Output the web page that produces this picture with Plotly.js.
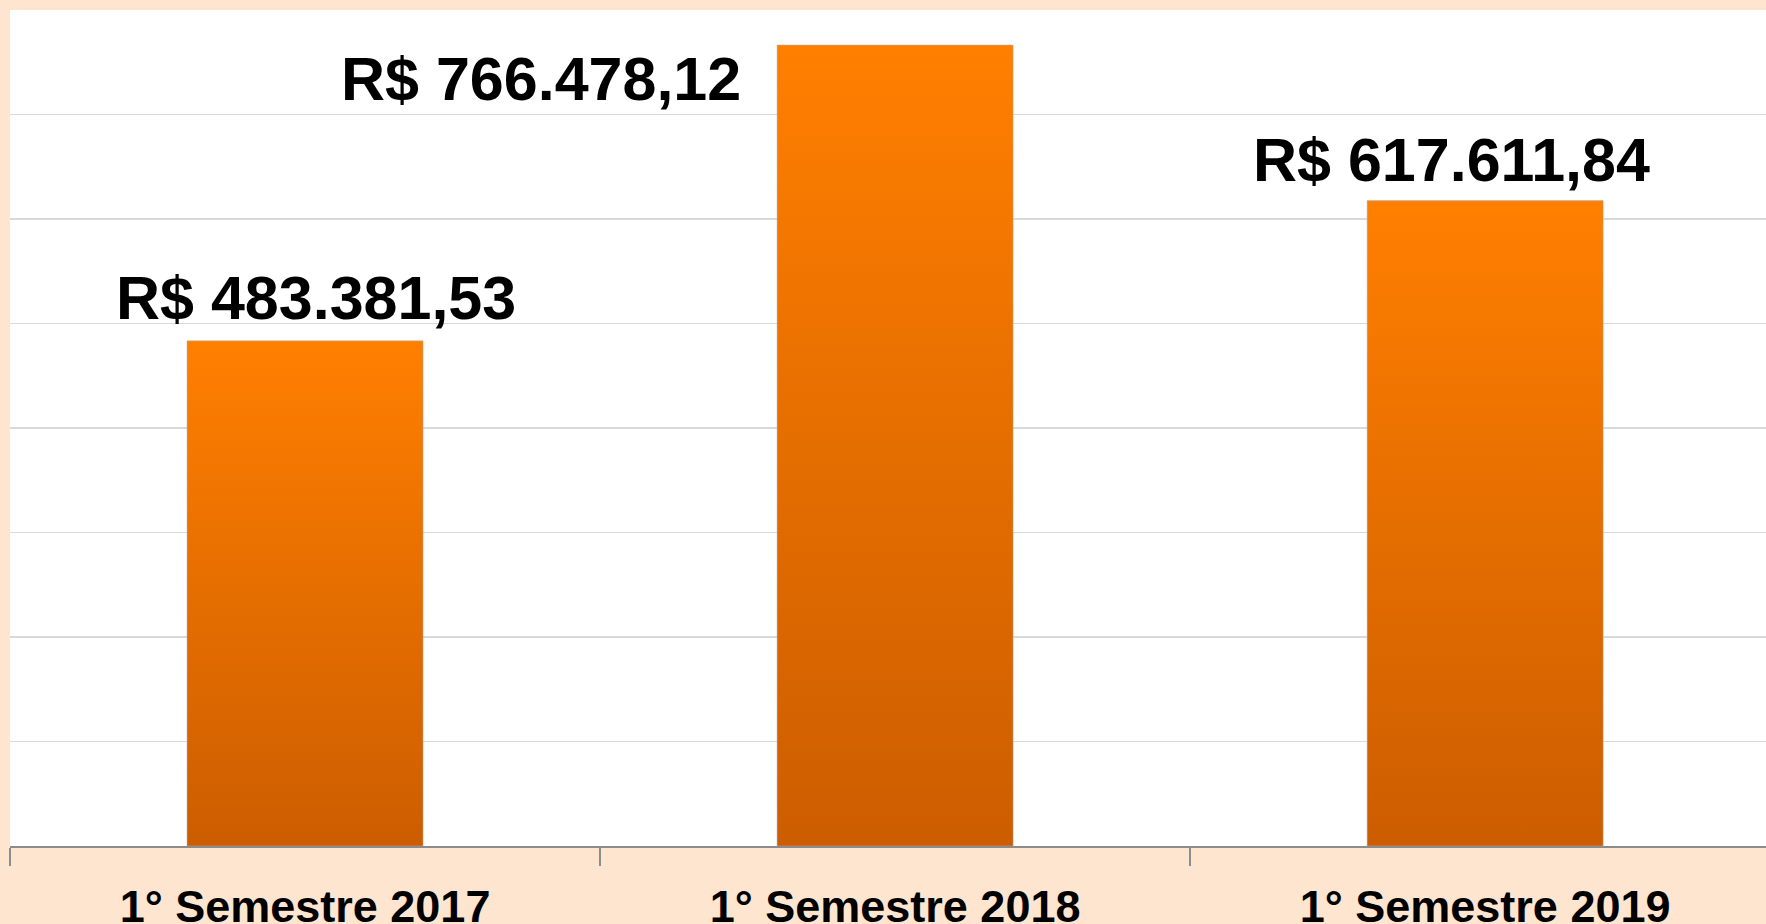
<!DOCTYPE html>
<html>
<head>
<meta charset="utf-8">
<script src="https://cdn.plot.ly/plotly-3.0.1.min.js"></script>
<style>
  html, body { margin: 0; padding: 0; background: #FDE5CF; }
  #chart { width: 1766px; height: 924px; }
</style>
</head>
<body>
<div id="chart"></div>
<script>
const categories = ['1° Semestre 2017', '1° Semestre 2018', '1° Semestre 2019'];
const values = [483381.53, 766478.12, 617611.84];
const yTicks = [0, 100000, 200000, 300000, 400000, 500000, 600000, 700000, 800000];

function formatBRL(v) {
  const parts = v.toFixed(2).split('.');
  const intPart = parts[0].replace(/\B(?=(\d{3})+(?!\d))/g, '.');
  return 'R$ ' + intPart + ',' + parts[1];
}

// label placement offsets (styling)
const labelXShift = [11, -354, -34];
const labelYShift = [7, -70, 5];

const FONT = 'Arial, "Liberation Sans", sans-serif';

const trace = {
  type: 'bar',
  x: categories,
  y: values,
  width: 0.4,
  marker: { color: '#E86E00', line: { color: 'rgba(180,180,180,0.5)', width: 1 } },
  hoverinfo: 'none'
};

const annotations = categories.map((c, i) => ({
  x: c,
  y: values[i],
  xref: 'x',
  yref: 'y',
  text: formatBRL(values[i]),
  showarrow: false,
  xanchor: 'center',
  yanchor: 'bottom',
  xshift: labelXShift[i],
  yshift: labelYShift[i],
  font: { family: FONT, size: 61, color: '#000000', weight: 'bold' }
}));

const layout = {
  width: 1766,
  height: 924,
  margin: { l: 10, r: 0, t: 10, b: 78 },
  paper_bgcolor: '#FDE5CF',
  plot_bgcolor: '#FFFFFF',
  showlegend: false,
  xaxis: {
    type: 'category',
    range: [-0.5, 2.476],
    tickson: 'boundaries',
    ticks: 'outside',
    ticklen: 18,
    tickwidth: 1.5,
    tickcolor: '#8C8C8C',
    showline: true,
    linecolor: '#8C8C8C',
    linewidth: 2,
    showgrid: false,
    ticklabelstandoff: 20,
    tickfont: { family: FONT, size: 45, color: '#000000', weight: 'bold' },
    fixedrange: true
  },
  yaxis: {
    range: [0, 800000],
    tickvals: yTicks,
    showticklabels: false,
    showgrid: true,
    gridcolor: '#D9D9D9',
    gridwidth: 1.5,
    zeroline: false,
    showline: false,
    ticks: '',
    fixedrange: true
  },
  annotations: annotations
};

Plotly.newPlot('chart', [trace], layout, { displayModeBar: false, staticPlot: true }).then(gd => {
  const svg = gd.querySelector('svg.main-svg');
  const ns = 'http://www.w3.org/2000/svg';
  let defs = svg.querySelector('defs');
  if (!defs) { defs = document.createElementNS(ns, 'defs'); svg.insertBefore(defs, svg.firstChild); }
  const grad = document.createElementNS(ns, 'linearGradient');
  grad.setAttribute('id', 'barGrad');
  grad.setAttribute('x1', '0'); grad.setAttribute('y1', '0');
  grad.setAttribute('x2', '0'); grad.setAttribute('y2', '1');
  [['0%', '#FF7F00'], ['100%', '#CC5D00']].forEach(([o, c]) => {
    const s = document.createElementNS(ns, 'stop');
    s.setAttribute('offset', o); s.setAttribute('stop-color', c);
    grad.appendChild(s);
  });
  defs.appendChild(grad);
  gd.querySelectorAll('.bars .point path').forEach(p => { p.style.fill = 'url(#barGrad)'; });
});
</script>
</body>
</html>
